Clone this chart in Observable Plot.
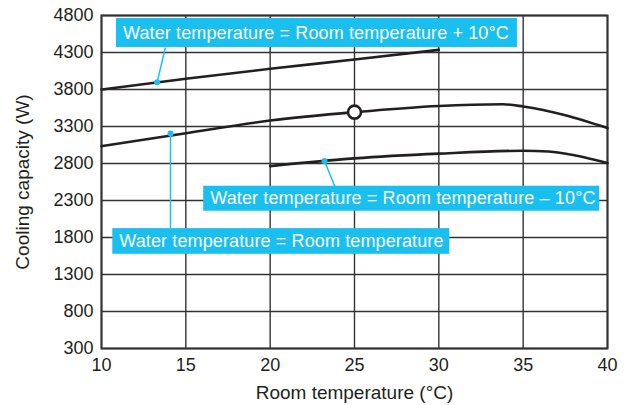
<!DOCTYPE html>
<html>
<head>
<meta charset="utf-8">
<script src="https://cdn.jsdelivr.net/npm/d3@7"></script>
<script src="https://cdn.jsdelivr.net/npm/@observablehq/plot@0.6"></script>
<style>
  html, body { margin: 0; padding: 0; background: #fff; }
  svg { display: block; }
  g[aria-label="x-axis label"] text, g[aria-label="y-axis label"] text { font-size: 19px; }
  g[aria-label="text"] text { letter-spacing: 0.12px; }
</style>
</head>
<body>
<div id="chart"></div>
<script>
// Tick labels
const xTicks = [10, 15, 20, 25, 30, 35, 40];
const yTicks = [300, 800, 1300, 1800, 2300, 2800, 3300, 3800, 4300, 4800];

// Series: Water temperature = Room temperature + 10°C
const plusRoom = [10, 15, 20, 25, 30];
const plusCap = [3800, 3945, 4080, 4205, 4335];

// Series: Water temperature = Room temperature
const equalRoom = [10, 15, 20, 25, 30, 33.8, 35, 40];
const equalCap = [3035, 3210, 3380, 3494, 3578, 3600, 3571, 3278];

// Series: Water temperature = Room temperature – 10°C
const minusRoom = [20, 25, 30, 35, 36.5, 40];
const minusCap = [2765, 2869, 2933, 2972, 2962, 2806];

// Rated point
const ratedRoom = [25];
const ratedCap = [3494];

// Callout labels
const labelText = [
  "Water temperature = Room temperature + 10°C",
  "Water temperature = Room temperature – 10°C",
  "Water temperature = Room temperature"
];
const labelX1 = [10.89, 16.06, 10.67];
const labelX2 = [34.66, 39.54, 30.65];
const labelY1 = [4368, 2155, 1573];
const labelY2 = [4759, 2493, 1920];
// Leader lines: point on curve -> box edge
const leaderX1 = [13.30, 23.22, 14.09];
const leaderY1 = [3899, 2833, 3207];
const leaderX2 = [13.79, 23.83, 14.09];
const leaderY2 = [4368, 2493, 1920];

const toRows = (xs, ys) => xs.map((x, i) => ({x, y: ys[i]}));
const labels = labelText.map((t, i) => ({t, x1: labelX1[i], x2: labelX2[i], y1: labelY1[i], y2: labelY2[i]}));
const leaders = leaderX1.map((x, i) => ({x1: x, y1: leaderY1[i], x2: leaderX2[i], y2: leaderY2[i]}));

const blue = "#19c0ef";
const gridColor = "#333";

const chart = Plot.plot({
  width: 633,
  height: 405,
  marginLeft: 101,
  marginRight: 26,
  marginTop: 15,
  marginBottom: 57,
  style: {fontFamily: "'Liberation Sans', Arial, sans-serif", fontSize: "18px", color: "#231f20", background: "#fff"},
  x: {domain: [10, 40]},
  y: {domain: [300, 4800]},
  marks: [
    Plot.gridX(xTicks, {stroke: gridColor, strokeOpacity: 1, strokeWidth: 1.4}),
    Plot.gridY(yTicks, {stroke: gridColor, strokeOpacity: 1, strokeWidth: 1.4}),
    Plot.frame({stroke: "#333", strokeWidth: 2}),
    Plot.axisX(xTicks, {tickSize: 0, tickPadding: 10, fontSize: 18, tickFormat: d3.format("d"), label: "Room temperature (°C)", labelAnchor: "center", labelArrow: "none", labelOffset: 50}),
    Plot.axisY(yTicks, {tickSize: 0, tickPadding: 8, fontSize: 18, tickFormat: d3.format("d"), label: "Cooling capacity (W)", labelAnchor: "center", labelArrow: "none", labelOffset: 86}),
    Plot.line(toRows(plusRoom, plusCap), {x: "x", y: "y", stroke: "#231f20", strokeWidth: 2.6, curve: "monotone-x"}),
    Plot.line(toRows(equalRoom, equalCap), {x: "x", y: "y", stroke: "#231f20", strokeWidth: 2.6, curve: "monotone-x"}),
    Plot.line(toRows(minusRoom, minusCap), {x: "x", y: "y", stroke: "#231f20", strokeWidth: 2.6, curve: "monotone-x"}),
    Plot.dot(toRows(ratedRoom, ratedCap), {x: "x", y: "y", r: 6.5, fill: "#fff", stroke: "#231f20", strokeWidth: 2.6}),
    Plot.link(leaders, {x1: "x1", y1: "y1", x2: "x2", y2: "y2", stroke: blue, strokeWidth: 1.5}),
    Plot.dot(leaders, {x: "x1", y: "y1", r: 3, fill: blue}),
    Plot.rect(labels, {x1: "x1", x2: "x2", y1: "y1", y2: "y2", fill: blue}),
    Plot.text(labels, {x: "x1", y: d => (d.y1 + d.y2) / 2, text: "t", textAnchor: "start", dx: 6.5, fill: "#fff", fontSize: 18})
  ]
});
document.getElementById("chart").append(chart);
</script>
</body>
</html>
